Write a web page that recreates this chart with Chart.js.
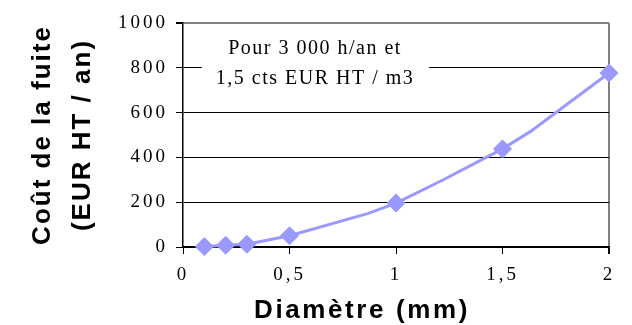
<!DOCTYPE html>
<html>
<head>
<meta charset="utf-8">
<script src="https://cdn.jsdelivr.net/npm/chart.js@4"></script>
<style>
  body { margin: 0; background: #fff; }
</style>
</head>
<body>
<canvas id="chartFuite" width="632" height="325"></canvas>
<script>
// courbe
const lineX = [0.1, 0.2, 0.3, 0.5, 0.87, 1, 1.22, 1.5, 1.63, 2];
const lineY = [2, 8, 12, 50, 150, 196, 299, 438, 515, 777];
// points marqués (losanges)
const markerX = [0.1, 0.2, 0.3, 0.5, 1, 1.5, 2];
const markerY = [2, 8, 12, 50, 196, 438, 777];

const xTicks = [0, 0.5, 1, 1.5, 2];
const xTickLabels = ['0', '0,5', '1', '1,5', '2'];
const yTicks = [0, 200, 400, 600, 800, 1000];
const yTickLabels = ['0', '200', '400', '600', '800', '1000'];

const titreX = 'Diamètre (mm)';
const titreY = ['Coût de la fuite', '(EUR HT / an)'];
const note = ['Pour 3 000 h/an et', '1,5 cts EUR HT / m3'];

const couleur = '#9999ff';
const serif = '"Liberation Serif", "Times New Roman", serif';

const textes = {
    id: 'textes',
    beforeDraw(chart) {
        chart.ctx.letterSpacing = '3px';
    },
    beforeDatasetsDraw(chart) {
        const ctx = chart.ctx;
        ctx.save();
        ctx.fillStyle = '#fff';
        ctx.fillRect(202, 30, 227, 70);
        ctx.fillStyle = '#000';
        ctx.font = '20px ' + serif;
        ctx.letterSpacing = '1.5px';
        ctx.textAlign = 'center';
        ctx.textBaseline = 'alphabetic';
        ctx.fillText(note[0], 315, 54);
        ctx.fillText(note[1], 315, 84);
        ctx.restore();
    },
    afterDraw(chart) {
        const ctx = chart.ctx;
        ctx.save();
        ctx.fillStyle = '#000';
        ctx.font = 'bold 26px "Liberation Sans", Arial, sans-serif';
        ctx.letterSpacing = '2.6px';
        ctx.textAlign = 'center';
        ctx.textBaseline = 'alphabetic';
        ctx.fillText(titreX, 362, 318);
        ctx.letterSpacing = '2px';
        ctx.translate(0, 135);
        ctx.rotate(-Math.PI / 2);
        ctx.textBaseline = 'middle';
        ctx.fillText(titreY[0], 0, 43);
        ctx.fillText(titreY[1], 0, 83);
        ctx.restore();
        ctx.letterSpacing = '0px';
    },
};

new Chart(document.getElementById('chartFuite'), {
    type: 'scatter',
    data: {
        datasets: [{
            data: lineX.map((x, i) => ({ x, y: lineY[i] })),
            showLine: true,
            borderColor: couleur,
            borderWidth: 3,
            pointRadius: 0,
            tension: 0,
            clip: false,
        }, {
            data: markerX.map((x, i) => ({ x, y: markerY[i] })),
            showLine: false,
            pointStyle: 'rectRot',
            pointRadius: 9,
            backgroundColor: couleur,
            borderColor: couleur,
            borderWidth: 1,
            clip: false,
        }],
    },
    options: {
        responsive: false,
        animation: false,
        layout: { padding: { left: 0, top: 23, right: 23, bottom: 0 } },
        plugins: { legend: { display: false }, tooltip: { enabled: false } },
        scales: {
            x: {
                type: 'linear',
                min: 0,
                max: 2,
                afterBuildTicks: s => { s.ticks = xTicks.map(v => ({ value: v })); },
                afterFit: s => { s.height = 78; },
                ticks: {
                    callback: (v, i) => xTickLabels[i],
                    color: '#000',
                    padding: 10,
                    maxRotation: 0,
                    font: { family: serif, size: 19 },
                },
                grid: {
                    color: c => (c.tick && c.tick.value === 2 ? '#808080' : 'rgba(0,0,0,0)'),
                    lineWidth: c => (c.tick && c.tick.value === 2 ? 2 : 1),
                    tickColor: '#000',
                    tickLength: 7,
                },
                border: { color: '#000', width: 1.5 },
            },
            y: {
                min: 0,
                max: 1000,
                afterBuildTicks: s => { s.ticks = yTicks.map(v => ({ value: v })); },
                afterFit: s => { s.width = 183; },
                ticks: {
                    callback: (v, i) => yTickLabels[i],
                    color: '#000',
                    padding: 8,
                    font: { family: serif, size: 19 },
                },
                grid: {
                    color: c => (c.tick && c.tick.value === 1000 ? '#808080' : '#000'),
                    lineWidth: c => (c.tick && c.tick.value === 1000 ? 2 : 1),
                    tickColor: '#000',
                    tickLength: 7,
                },
                border: { color: '#000', width: 1.5 },
            },
        },
    },
    plugins: [textes],
});
</script>
</body>
</html>
